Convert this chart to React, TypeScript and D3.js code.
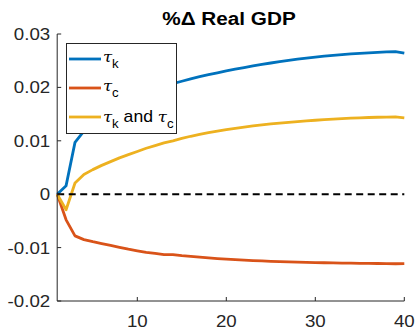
import * as d3 from "d3";

// periods 1..40
const periods = d3.range(1, 41);

const tauK = [
  0, 0.0016, 0.0097, 0.0118, 0.0134, 0.0147, 0.0158, 0.0168, 0.0177, 0.0185,
  0.0192, 0.0198, 0.0203, 0.0207, 0.02115, 0.0216, 0.022, 0.02238, 0.02274, 0.02308,
  0.0234, 0.02372, 0.02402, 0.0243, 0.02457, 0.02483, 0.02507, 0.0253, 0.0255, 0.02568,
  0.02585, 0.026, 0.02614, 0.02627, 0.02638, 0.02648, 0.02657, 0.02664, 0.02668, 0.0264,
];
const tauC = [
  0, -0.0048, -0.0078, -0.0085, -0.0089, -0.00925, -0.0096, -0.00995, -0.0103, -0.0106,
  -0.0109, -0.0111, -0.0113, -0.0113, -0.0115, -0.01165, -0.0118, -0.01193, -0.01205, -0.01216,
  -0.01226, -0.01235, -0.01243, -0.0125, -0.01257, -0.01263, -0.01268, -0.01273, -0.01277, -0.01281,
  -0.01284, -0.01287, -0.0129, -0.01292, -0.01294, -0.01296, -0.01298, -0.013, -0.01302, -0.013,
];
const tauBoth = [
  0, -0.0029, 0.0021, 0.0037, 0.0046, 0.0054, 0.0061, 0.0068, 0.0074, 0.008,
  0.0086, 0.0091, 0.0096, 0.01, 0.01045, 0.01085, 0.0112, 0.01152, 0.01182, 0.0121,
  0.01234, 0.01257, 0.01278, 0.01297, 0.01315, 0.01331, 0.01346, 0.0136, 0.01373, 0.01385,
  0.01396, 0.01406, 0.01415, 0.01423, 0.0143, 0.01436, 0.01441, 0.01445, 0.01448, 0.0143,
];

const xTicks = [10, 20, 30, 40];
const yTicks = [-0.02, -0.01, 0, 0.01, 0.02, 0.03];
const yTickLabels = ["-0.02", "-0.01", "0", "0.01", "0.02", "0.03"];

const series = [
  { name: "k", values: tauK, color: "#0072BD" },
  { name: "c", values: tauC, color: "#D95319" },
  { name: "both", values: tauBoth, color: "#EDB120" },
];

const AXIS = "#262626";
const FONT = "'Liberation Sans', Arial, Helvetica, sans-serif";
const SX = 1.1; // text in the reference is a bit wider than tall

export default function App() {
  const width = 415;
  const height = 329;

  const x = d3.scaleLinear().domain([1, 40]).range([57.2, 404.3]);
  const y = d3.scaleLinear().domain([-0.02, 0.03]).range([301, 34]);

  const line = d3
    .line<number>()
    .x((_, i) => x(periods[i]))
    .y((d) => y(d));

  const legendX = 66;
  const legendY = 43;
  const rowY = [59, 88, 117];

  // tau with a subscript, placed in a tspan run
  const tau = (sub: string, key: string) => [
    <tspan key={key + "t"} fontFamily="'DejaVu Serif', serif" fontStyle="italic" fontSize={15}>
      τ
    </tspan>,
    <tspan key={key + "s"} fontSize={12} dy={6}>
      {sub}
    </tspan>,
  ];

  return (
    <svg
      width={width}
      height={height}
      style={{ position: "absolute", left: 0, top: 0, background: "white" }}
      fontFamily={FONT}
    >
      {/* title */}
      <text
        transform={`translate(229,25) scale(1.12,1)`}
        textAnchor="middle"
        fontWeight="bold"
        fontSize={18.5}
        fill="#000"
      >
        %Δ Real GDP
      </text>

      {/* series */}
      {series.map((s) => (
        <path
          key={s.name}
          d={line(s.values) || ""}
          fill="none"
          stroke={s.color}
          strokeWidth={2.8}
          strokeLinejoin="round"
        />
      ))}

      {/* zero line */}
      <line
        x1={x(1)}
        x2={x(40)}
        y1={y(0)}
        y2={y(0)}
        stroke="#000"
        strokeWidth={2}
        strokeDasharray="7,4.5"
      />

      {/* axes */}
      <g stroke={AXIS} strokeWidth={1} fill="none">
        <line x1={x(1)} x2={x(1)} y1={y(0.03)} y2={y(-0.02)} />
        <line x1={x(1)} x2={x(40)} y1={y(-0.02)} y2={y(-0.02)} />
        {yTicks.map((t) => (
          <line key={t} x1={x(1)} x2={x(1) + 4} y1={y(t)} y2={y(t)} />
        ))}
        {xTicks.map((t) => (
          <line key={t} x1={x(t)} x2={x(t)} y1={y(-0.02)} y2={y(-0.02) - 4} />
        ))}
      </g>
      <g fill={AXIS} fontSize={17}>
        {yTicks.map((t, i) => (
          <text
            key={t}
            transform={`translate(${x(1) - 7},${y(t) + 6}) scale(${SX},1)`}
            textAnchor="end"
          >
            {yTickLabels[i]}
          </text>
        ))}
        {xTicks.map((t) => (
          <text
            key={t}
            transform={`translate(${x(t)},${y(-0.02) + 25.5}) scale(${SX},1)`}
            textAnchor="middle"
          >
            {t}
          </text>
        ))}
      </g>

      {/* legend */}
      <rect
        x={legendX + 0.5}
        y={legendY + 0.5}
        width={110}
        height={90}
        fill="white"
        stroke={AXIS}
        strokeWidth={1}
      />
      {series.map((s, i) => (
        <line
          key={s.name}
          x1={69}
          x2={101}
          y1={rowY[i]}
          y2={rowY[i]}
          stroke={s.color}
          strokeWidth={2.8}
        />
      ))}
      <g fill="#000" fontSize={16}>
        <text transform={`translate(103,${rowY[0] + 3}) scale(${SX},1)`}>{tau("k", "a")}</text>
        <text transform={`translate(103,${rowY[1] + 3}) scale(${SX},1)`}>{tau("c", "b")}</text>
        <text transform={`translate(103,${rowY[2] + 4.5}) scale(${SX},1)`}>
          {tau("k", "c")}
          <tspan dy={-6}> and </tspan>
          {tau("c", "d")}
        </text>
      </g>
    </svg>
  );
}
